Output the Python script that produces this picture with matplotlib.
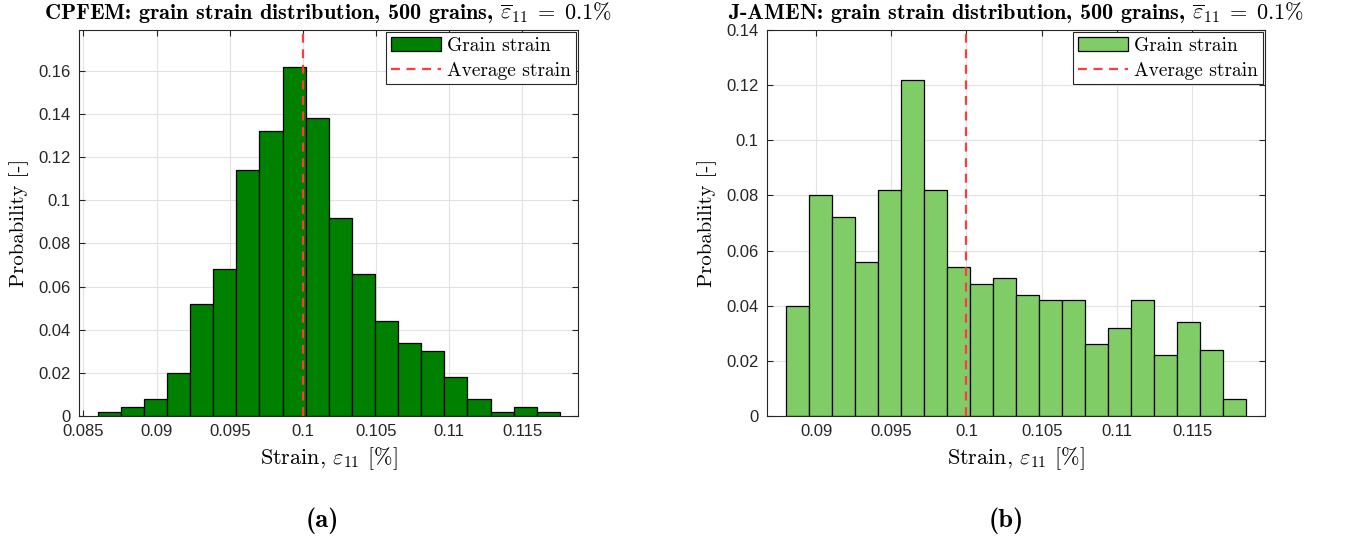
import numpy as np
import matplotlib
matplotlib.use("Agg")
import matplotlib.pyplot as plt
from matplotlib.patches import Patch
from matplotlib.lines import Line2D

# histogram data (probability per bin)
cpfem_prob = [0.002, 0.004, 0.008, 0.020, 0.052, 0.068, 0.114, 0.132, 0.162, 0.138,
              0.092, 0.066, 0.044, 0.034, 0.030, 0.018, 0.008, 0.002, 0.004, 0.002]
cpfem_range = (0.08597, 0.11757)

jamen_prob = [0.040, 0.080, 0.072, 0.056, 0.082, 0.122, 0.082, 0.054, 0.048, 0.050,
              0.044, 0.042, 0.042, 0.026, 0.032, 0.042, 0.022, 0.034, 0.024, 0.006]
jamen_range = (0.08799, 0.11861)

avg_strain = 0.1

cpfem_xticks = [0.085, 0.09, 0.095, 0.1, 0.105, 0.11, 0.115]
cpfem_xlabels = ['0.085', '0.09', '0.095', '0.1', '0.105', '0.11', '0.115']
cpfem_yticks = [0, 0.02, 0.04, 0.06, 0.08, 0.1, 0.12, 0.14, 0.16]
cpfem_ylabels = ['0', '0.02', '0.04', '0.06', '0.08', '0.1', '0.12', '0.14', '0.16']

jamen_xticks = [0.09, 0.095, 0.1, 0.105, 0.11, 0.115]
jamen_xlabels = ['0.09', '0.095', '0.1', '0.105', '0.11', '0.115']
jamen_yticks = [0, 0.02, 0.04, 0.06, 0.08, 0.1, 0.12, 0.14]
jamen_ylabels = ['0', '0.02', '0.04', '0.06', '0.08', '0.1', '0.12', '0.14']

plt.rcParams['mathtext.fontset'] = 'cm'
plt.rcParams['font.family'] = 'cmr10'
plt.rcParams['axes.unicode_minus'] = False

fig = plt.figure(figsize=(13.52, 5.39), dpi=100)


def draw_panel(ax, probs, rng, color, title, xticks, xlabels, yticks, ylabels, xlim, ylim):
    edges = np.linspace(rng[0], rng[1], len(probs) + 1)
    ax.bar(edges[:-1], probs, width=np.diff(edges), align='edge', color=color,
           edgecolor='black', linewidth=0.9, zorder=2)
    ax.axvline(avg_strain, color='#ff3b3b', linestyle=(0, (4, 3)), linewidth=1.6, zorder=3)

    ax.set_xlim(*xlim)
    ax.set_ylim(*ylim)
    ax.set_xticks(xticks)
    ax.set_xticklabels(xlabels, family='Liberation Sans', fontsize=12)
    ax.set_yticks(yticks)
    ax.set_yticklabels(ylabels, family='Liberation Sans', fontsize=12)
    ax.tick_params(direction='in', top=True, right=True, length=4, width=0.8,
                   color='#262626', labelcolor='#262626', pad=6)
    ax.grid(True, color='#e2e2e2', linewidth=0.8, zorder=0)
    ax.set_axisbelow(True)
    for sp in ax.spines.values():
        sp.set_color('#262626')
        sp.set_linewidth(0.8)

    ax.set_title(title, fontsize=16, pad=8, family='cmb10')
    ax.set_xlabel(r'Strain, $\varepsilon_{11}$ [%]', fontsize=16, labelpad=4)
    ax.set_ylabel('Probability [-]', fontsize=15, labelpad=7)

    handles = [Patch(facecolor=color, edgecolor='black', linewidth=0.9),
               Line2D([0], [0], color='#ff3b3b', linestyle=(0, (4, 3)), linewidth=1.6)]
    leg = ax.legend(handles, ['Grain strain', 'Average strain'], loc='upper right',
                    fontsize=14, fancybox=False, framealpha=1, edgecolor='#262626',
                    borderaxespad=0.1, borderpad=0.25, handlelength=2.6,
                    handletextpad=0.3, labelspacing=0.35)
    leg.get_frame().set_linewidth(0.8)


ax1 = fig.add_axes([0.0584, 0.2282, 0.3691, 0.7161])
draw_panel(ax1, cpfem_prob, cpfem_range, '#008000',
           r'CPFEM: grain strain distribution, 500 grains, $\overline{\varepsilon}_{11} \;=\; \mathbf{0.1\%}$',
           cpfem_xticks, cpfem_xlabels, cpfem_yticks, cpfem_ylabels,
           (0.0847, 0.1188), (0, 0.179))

ax2 = fig.add_axes([0.5673, 0.2282, 0.3683, 0.7161])
draw_panel(ax2, jamen_prob, jamen_range, '#80cc66',
           r'J-AMEN: grain strain distribution, 500 grains, $\overline{\varepsilon}_{11} \;=\; \mathbf{0.1\%}$',
           jamen_xticks, jamen_xlabels, jamen_yticks, jamen_ylabels,
           (0.08673, 0.11985), (0, 0.14))

fig.text(0.2385, 0.022, '(a)', family='cmb10', fontsize=19, ha='center')
fig.text(0.744, 0.022, '(b)', family='cmb10', fontsize=19, ha='center')

fig.savefig('out.png', dpi=100)
